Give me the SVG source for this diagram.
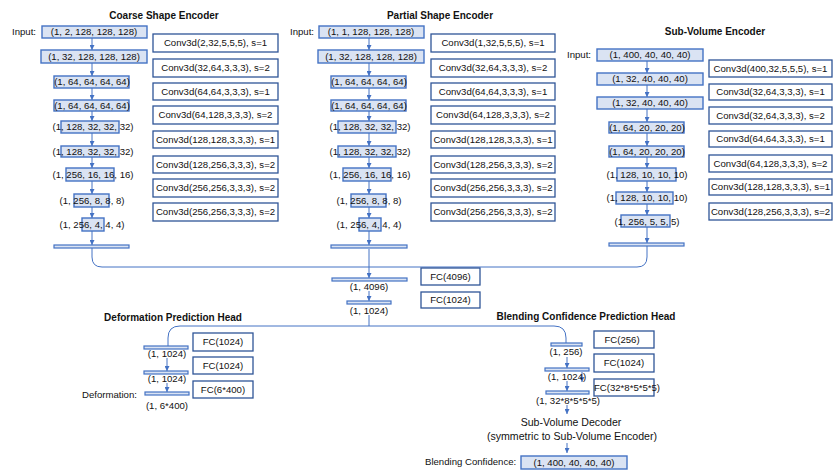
<svg xmlns="http://www.w3.org/2000/svg" width="833" height="475" viewBox="0 0 833 475">
<defs>
<marker id="ah" markerUnits="userSpaceOnUse" markerWidth="5" markerHeight="5" refX="5" refY="2.5" orient="auto">
<path d="M0,0 L5,2.5 L0,5 z" fill="#4472C4"/>
</marker>
<style>
text{font-family:"Liberation Sans",Arial,sans-serif;font-size:9.6px;fill:#111;}
.c{text-anchor:middle;}
.t{font-weight:bold;font-size:10px;text-anchor:middle;}
.big{font-size:10.6px;text-anchor:middle;}
.sh{fill:#DAE3F3;stroke:#4472C4;stroke-width:1.4;}
.bar{fill:#DAE3F3;stroke:#4472C4;stroke-width:1.2;}
.op{fill:#fff;stroke:#2F5597;stroke-width:1.3;}
.ln{fill:none;stroke:#4472C4;stroke-width:1;}
.ar{fill:none;stroke:#4472C4;stroke-width:1;marker-end:url(#ah);}
</style>
</defs>
<rect width="833" height="475" fill="#fff"/>

<!-- titles -->
<text class="t" x="164" y="18.5">Coarse Shape Encoder</text>
<text class="t" x="440" y="18.5">Partial Shape Encoder</text>
<text class="t" x="715" y="34.5">Sub-Volume Encoder</text>
<text class="t" x="173" y="320.5">Deformation Prediction Head</text>
<text class="t" x="586" y="319.5">Blending Confidence Prediction Head</text>

<!-- connectors -->
<g id="connectors">
<!-- coarse -->
<line class="ar" x1="92" y1="38" x2="92" y2="50"/>
<line class="ar" x1="92" y1="63" x2="92" y2="76"/>
<line class="ar" x1="92" y1="88" x2="92" y2="100"/>
<line class="ar" x1="92" y1="111" x2="92" y2="121"/>
<line class="ar" x1="92" y1="133" x2="92" y2="146"/>
<line class="ar" x1="92" y1="157" x2="92" y2="168"/>
<line class="ar" x1="92" y1="181" x2="92" y2="194"/>
<line class="ar" x1="92" y1="207" x2="92" y2="218"/>
<line class="ar" x1="92" y1="231" x2="92" y2="245"/>
<!-- partial -->
<line class="ar" x1="369" y1="38" x2="369" y2="50"/>
<line class="ar" x1="369" y1="63" x2="369" y2="76"/>
<line class="ar" x1="369" y1="88" x2="369" y2="100"/>
<line class="ar" x1="369" y1="111" x2="369" y2="121"/>
<line class="ar" x1="369" y1="133" x2="369" y2="146"/>
<line class="ar" x1="369" y1="157" x2="369" y2="168"/>
<line class="ar" x1="369" y1="181" x2="369" y2="194"/>
<line class="ar" x1="369" y1="207" x2="369" y2="218"/>
<line class="ar" x1="369" y1="231" x2="369" y2="245"/>
<!-- sub-volume -->
<line class="ar" x1="647" y1="61" x2="647" y2="73"/>
<line class="ar" x1="647" y1="85" x2="647" y2="97"/>
<line class="ar" x1="647" y1="109" x2="647" y2="122"/>
<line class="ar" x1="647" y1="133" x2="647" y2="146"/>
<line class="ar" x1="647" y1="157" x2="647" y2="168"/>
<line class="ar" x1="647" y1="181" x2="647" y2="192"/>
<line class="ar" x1="647" y1="204" x2="647" y2="215"/>
<line class="ar" x1="647" y1="227" x2="647" y2="243"/>
<!-- merge -->
<path class="ln" d="M647,246 V257 Q647,267 637,267 H102 Q92,267 92,257 V248"/>
<line class="ar" x1="369" y1="249" x2="369" y2="278"/>
<line class="ar" x1="369" y1="291" x2="369" y2="301"/>
<line class="ln" x1="369" y1="315" x2="369" y2="326"/>
<path class="ln" d="M168,346 V338 Q168,326 180,326 H554 Q566,326 566,338 V343"/>
<!-- deformation -->
<line class="ar" x1="167" y1="358" x2="167" y2="371"/>
<line class="ar" x1="167" y1="383" x2="167" y2="392"/>
<!-- blending -->
<line class="ar" x1="567" y1="357" x2="567" y2="368"/>
<line class="ar" x1="567" y1="381" x2="567" y2="391"/>
<line class="ar" x1="582" y1="372" x2="582" y2="382"/>
<line class="ar" x1="567" y1="405" x2="567" y2="414"/>
<line class="ar" x1="567" y1="443" x2="567" y2="453"/>
</g>

<!-- Coarse Shape Encoder -->
<g id="coarse-encoder">
<text x="12" y="35.4">Input:</text>
<rect class="sh" x="42" y="26" width="105" height="12"/><text class="c" x="94" y="35.4">(1, 2, 128, 128, 128)</text>
<rect class="sh" x="41" y="50" width="106" height="13"/><text class="c" x="94" y="59.9">(1, 32, 128, 128, 128)</text>
<rect class="sh" x="54" y="76" width="75" height="12"/><text class="c" x="92" y="85.4">(1, 64, 64, 64, 64)</text>
<rect class="sh" x="54" y="100" width="75" height="11"/><text class="c" x="92" y="108.9">(1, 64, 64, 64, 64)</text>
<rect class="sh" x="61" y="121" width="58" height="12"/><text class="c" x="93" y="130.4">(1, 128, 32, 32, 32)</text>
<rect class="sh" x="61" y="146" width="58" height="11"/><text class="c" x="93" y="154.9">(1, 128, 32, 32, 32)</text>
<rect class="sh" x="66" y="168" width="48" height="13"/><text class="c" x="93" y="178.4">(1, 256, 16, 16, 16)</text>
<rect class="sh" x="74" y="194" width="35" height="13"/><text class="c" x="92" y="203.9">(1, 256, 8, 8, 8)</text>
<rect class="sh" x="82" y="218" width="22" height="13"/><text class="c" x="92" y="227.9">(1, 256, 4, 4, 4)</text>
<rect class="bar" x="54" y="245" width="75" height="3"/>
</g>
<g id="coarse-ops">
<rect class="op" x="153" y="34" width="125" height="18"/><text class="c" x="215.5" y="46.4">Conv3d(2,32,5,5,5), s=1</text>
<rect class="op" x="153" y="59" width="125" height="18"/><text class="c" x="215.5" y="71.4">Conv3d(32,64,3,3,3), s=2</text>
<rect class="op" x="153" y="83" width="125" height="17"/><text class="c" x="215.5" y="94.9">Conv3d(64,64,3,3,3), s=1</text>
<rect class="op" x="153" y="106" width="125" height="18"/><text class="c" x="215.5" y="118.4">Conv3d(64,128,3,3,3), s=2</text>
<rect class="op" x="153" y="131" width="125" height="17"/><text class="c" x="215.5" y="142.9">Conv3d(128,128,3,3,3), s=1</text>
<rect class="op" x="153" y="156" width="125" height="17"/><text class="c" x="215.5" y="167.9">Conv3d(128,256,3,3,3), s=2</text>
<rect class="op" x="153" y="179" width="125" height="18"/><text class="c" x="215.5" y="191.4">Conv3d(256,256,3,3,3), s=2</text>
<rect class="op" x="153" y="203" width="125" height="18"/><text class="c" x="215.5" y="215.4">Conv3d(256,256,3,3,3), s=2</text>
</g>

<!-- Partial Shape Encoder -->
<g id="partial-encoder">
<text x="290" y="35.4">Input:</text>
<rect class="sh" x="319" y="26" width="105" height="12"/><text class="c" x="371" y="35.4">(1, 1, 128, 128, 128)</text>
<rect class="sh" x="318" y="50" width="106" height="13"/><text class="c" x="371" y="59.9">(1, 32, 128, 128, 128)</text>
<rect class="sh" x="331" y="76" width="75" height="12"/><text class="c" x="369" y="85.4">(1, 64, 64, 64, 64)</text>
<rect class="sh" x="331" y="100" width="75" height="11"/><text class="c" x="369" y="108.9">(1, 64, 64, 64, 64)</text>
<rect class="sh" x="338" y="121" width="58" height="12"/><text class="c" x="370" y="130.4">(1, 128, 32, 32, 32)</text>
<rect class="sh" x="338" y="146" width="58" height="11"/><text class="c" x="370" y="154.9">(1, 128, 32, 32, 32)</text>
<rect class="sh" x="343" y="168" width="48" height="13"/><text class="c" x="370" y="178.4">(1, 256, 16, 16, 16)</text>
<rect class="sh" x="351" y="194" width="35" height="13"/><text class="c" x="369" y="203.9">(1, 256, 8, 8, 8)</text>
<rect class="sh" x="359" y="218" width="22" height="13"/><text class="c" x="369" y="227.9">(1, 256, 4, 4, 4)</text>
<rect class="bar" x="331" y="245" width="76" height="3"/>
</g>
<g id="partial-ops">
<rect class="op" x="431" y="34" width="124" height="18"/><text class="c" x="493" y="46.4">Conv3d(1,32,5,5,5), s=1</text>
<rect class="op" x="431" y="59" width="124" height="18"/><text class="c" x="493" y="71.4">Conv3d(32,64,3,3,3), s=2</text>
<rect class="op" x="431" y="83" width="124" height="17"/><text class="c" x="493" y="94.9">Conv3d(64,64,3,3,3), s=1</text>
<rect class="op" x="431" y="106" width="124" height="18"/><text class="c" x="493" y="118.4">Conv3d(64,128,3,3,3), s=2</text>
<rect class="op" x="431" y="131" width="124" height="17"/><text class="c" x="493" y="142.9">Conv3d(128,128,3,3,3), s=1</text>
<rect class="op" x="431" y="156" width="124" height="17"/><text class="c" x="493" y="167.9">Conv3d(128,256,3,3,3), s=2</text>
<rect class="op" x="431" y="179" width="124" height="18"/><text class="c" x="493" y="191.4">Conv3d(256,256,3,3,3), s=2</text>
<rect class="op" x="431" y="203" width="124" height="18"/><text class="c" x="493" y="215.4">Conv3d(256,256,3,3,3), s=2</text>
</g>

<!-- Sub-Volume Encoder -->
<g id="subvolume-encoder">
<text x="567" y="58.4">Input:</text>
<rect class="sh" x="597" y="49" width="106" height="12"/><text class="c" x="650" y="58.4">(1, 400, 40, 40, 40)</text>
<rect class="sh" x="597" y="73" width="106" height="12"/><text class="c" x="650" y="82.4">(1, 32, 40, 40, 40)</text>
<rect class="sh" x="597" y="97" width="106" height="12"/><text class="c" x="650" y="106.4">(1, 32, 40, 40, 40)</text>
<rect class="sh" x="609" y="122" width="75" height="11"/><text class="c" x="647" y="130.9">(1, 64, 20, 20, 20)</text>
<rect class="sh" x="609" y="146" width="75" height="11"/><text class="c" x="647" y="154.9">(1, 64, 20, 20, 20)</text>
<rect class="sh" x="617" y="168" width="59" height="13"/><text class="c" x="647" y="177.9">(1, 128, 10, 10, 10)</text>
<rect class="sh" x="616" y="192" width="57" height="12"/><text class="c" x="647" y="201.4">(1, 128, 10, 10, 10)</text>
<rect class="sh" x="621" y="215" width="49" height="12"/><text class="c" x="647" y="224.9">(1, 256, 5, 5, 5)</text>
<rect class="bar" x="609" y="243" width="75" height="3"/>
</g>
<g id="subvolume-ops">
<rect class="op" x="709" y="60" width="123" height="17"/><text class="c" x="770.5" y="71.9">Conv3d(400,32,5,5,5), s=1</text>
<rect class="op" x="709" y="84" width="123" height="16"/><text class="c" x="770.5" y="95.4">Conv3d(32,64,3,3,3), s=1</text>
<rect class="op" x="709" y="107" width="123" height="17"/><text class="c" x="770.5" y="118.9">Conv3d(32,64,3,3,3), s=2</text>
<rect class="op" x="709" y="131" width="123" height="16"/><text class="c" x="770.5" y="142.4">Conv3d(64,64,3,3,3), s=1</text>
<rect class="op" x="709" y="155" width="123" height="17"/><text class="c" x="770.5" y="166.9">Conv3d(64,128,3,3,3), s=2</text>
<rect class="op" x="709" y="179" width="123" height="16"/><text class="c" x="770.5" y="190.4">Conv3d(128,128,3,3,3), s=1</text>
<rect class="op" x="709" y="203" width="123" height="17"/><text class="c" x="770.5" y="214.9">Conv3d(128,256,3,3,3), s=2</text>
</g>

<!-- Shared FC -->
<g id="shared-fc">
<rect class="bar" x="332" y="278" width="75" height="3"/><text class="c" x="369" y="290">(1, 4096)</text>
<rect class="bar" x="347" y="301" width="44" height="3"/><text class="c" x="369" y="314.4">(1, 1024)</text>
<rect class="op" x="421" y="268" width="59" height="17"/><text class="c" x="450.5" y="279.9">FC(4096)</text>
<rect class="op" x="421" y="292" width="59" height="16"/><text class="c" x="450.5" y="303.4">FC(1024)</text>
</g>

<!-- Deformation head -->
<g id="deformation-head">
<rect class="bar" x="144" y="346" width="44" height="3"/><text class="c" x="167" y="357.4">(1, 1024)</text>
<rect class="bar" x="144" y="371" width="44" height="3"/><text class="c" x="167" y="381.9">(1, 1024)</text>
<text x="82" y="398.4">Deformation:</text>
<rect class="bar" x="145" y="392" width="44" height="3"/><text class="c" x="167" y="409.4">(1, 6*400)</text>
<rect class="op" x="193" y="333" width="60" height="18"/><text class="c" x="223" y="345.4">FC(1024)</text>
<rect class="op" x="193" y="357" width="60" height="17"/><text class="c" x="223" y="368.9">FC(1024)</text>
<rect class="op" x="193" y="381" width="60" height="17"/><text class="c" x="223" y="392.9">FC(6*400)</text>
</g>

<!-- Blending head -->
<g id="blending-head">
<rect class="bar" x="551" y="343" width="31" height="3"/><text class="c" x="566" y="355.4">(1, 256)</text>
<rect class="bar" x="545" y="368" width="44" height="3"/><text class="c" x="567" y="380.4">(1, 1024)</text>
<rect class="bar" x="546" y="391" width="43" height="3"/><text class="c" x="568" y="404.4">(1, 32*8*5*5*5)</text>
<rect class="op" x="594" y="331" width="60" height="17"/><text class="c" x="622" y="342.9">FC(256)</text>
<rect class="op" x="594" y="354" width="60" height="18"/><text class="c" x="624" y="366.4">FC(1024)</text>
<rect class="op" x="594" y="379" width="60" height="17"/><text class="c" x="627" y="391.4">FC(32*8*5*5*5)</text>
</g>
<g id="subvolume-decoder">
<text class="big" x="571" y="425.8">Sub-Volume Decoder</text>
<text class="big" x="572" y="439.8">(symmetric to Sub-Volume Encoder)</text>
</g>
<g id="blending-output">
<text x="425" y="465.4">Blending Confidence:</text>
<rect class="sh" x="521" y="456" width="106" height="13"/><text class="c" x="574" y="465.9">(1, 400, 40, 40, 40)</text>
</g>
</svg>
